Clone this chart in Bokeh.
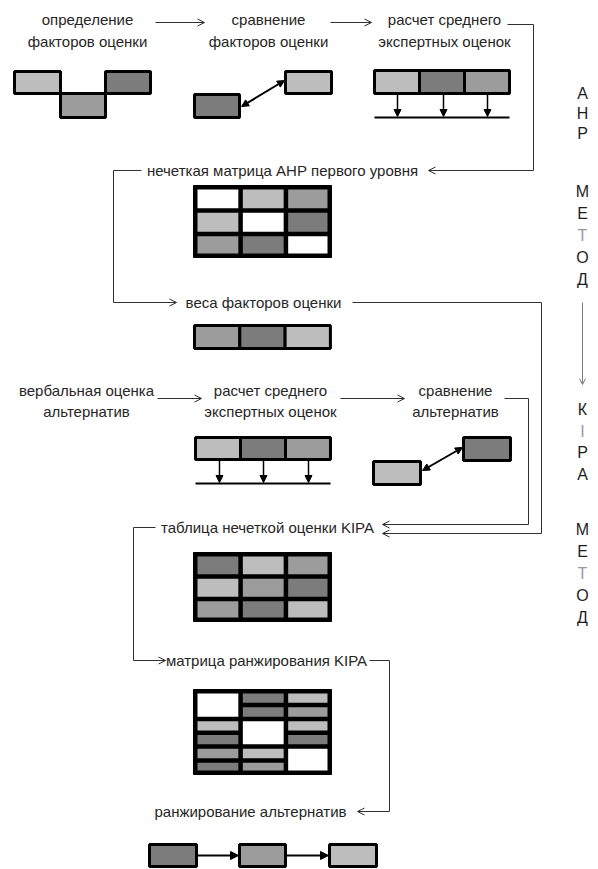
from bokeh.plotting import figure
from bokeh.models import Range1d, Arrow, OpenHead, NormalHead
from bokeh.core.properties import value
from bokeh.embed import file_html
from bokeh.resources import INLINE

# ---------------- data ----------------
SHADE = {"w": "#ffffff", "l": "#bdbdbd", "m": "#9c9c9c", "d": "#7c7c7c"}

top_steps = [["определение", "факторов оценки"],
             ["сравнение", "факторов оценки"],
             ["расчет среднего", "экспертных оценок"]]
alt_steps = [["вербальная оценка", "альтернатив"],
             ["расчет среднего", "экспертных оценок"],
             ["сравнение", "альтернатив"]]
stage_labels = ["нечеткая матрица АНР первого уровня",
                "веса факторов оценки",
                "таблица нечеткой оценки KIPA",
                "матрица ранжирования KIPA",
                "ранжирование альтернатив"]
side_top = ["А", "Н", "Р", "", "М", "Е", "Т", "О", "Д"]
side_bottom = ["К", "І", "Р", "А", "", "М", "Е", "Т", "О", "Д"]

factor_boxes = ["l", "m", "d"]
compare_factors = ["d", "l"]
avg_factors = ["l", "d", "m"]
ahp_matrix = [["w", "l", "m"], ["l", "w", "d"], ["m", "d", "w"]]
weights = ["m", "d", "l"]
avg_alts = ["l", "d", "m"]
compare_alts = ["l", "d"]
kipa_table = [["d", "l", "m"], ["l", "m", "d"], ["m", "d", "l"]]
ranking_cols = [[("w", 2), ("l", 1), ("d", 1), ("m", 1), ("d", 1)],
                [("d", 1), ("d", 1), ("w", 2), ("l", 1), ("m", 1)],
                [("l", 1), ("m", 1), ("l", 1), ("d", 1), ("w", 2)]]
final_rank = ["d", "m", "l"]

# ---------------- figure ----------------
W, H = 598, 869
p = figure(width=W, height=H, x_range=Range1d(0, W), y_range=Range1d(H, 0),
           output_backend="svg", toolbar_location=None,
           x_axis_location=None, y_axis_location=None, min_border=0)
p.grid.visible = False
p.outline_line_color = None
p.background_fill_color = "white"

FONT = value("Liberation Sans")
TXT = "#262626"
LN = "#303030"


def label(x, y, s, size="15px", align="center", color=TXT):
    p.text(x=[x], y=[y], text=[s], text_font=FONT, text_font_size=value(size),
           text_align=align, text_baseline="middle", text_color=color)


def box(x0, x1, y0, y1, shade, lw=3):
    p.quad(left=[x0], right=[x1], top=[y0], bottom=[y1], fill_color=SHADE[shade],
           line_color="black", line_width=lw)


def hline(x0, x1, y, lw=1, color=LN):
    p.line([x0, x1], [y, y], line_color=color, line_width=lw)


def poly(xs, ys, lw=1, color=LN):
    p.line(xs, ys, line_color=color, line_width=lw)


def open_arrow(x0, y0, x1, y1, size=7, color=LN):
    p.add_layout(Arrow(end=OpenHead(size=size, line_width=1, line_color=color),
                       x_start=x0, y_start=y0, x_end=x1, y_end=y1,
                       line_color=color, line_width=1))


def solid_arrow(x0, y0, x1, y1, both=False, size=8, lw=2):
    head = lambda: NormalHead(size=size, fill_color="black", line_color="black")
    p.add_layout(Arrow(end=head(), start=head() if both else None,
                       x_start=x0, y_start=y0, x_end=x1, y_end=y1,
                       line_color="black", line_width=lw))


def grid_matrix(x0, x1, y0, y1, cells, g=3):
    nr, nc = len(cells), len(cells[0])
    p.quad(left=[x0 - 1], right=[x1 + 1], top=[y0 - 1], bottom=[y1 + 1],
           fill_color="black", line_color="black")
    cw = (x1 - x0) / nc
    rh = (y1 - y0) / nr
    for r, row in enumerate(cells):
        for c, s in enumerate(row):
            p.quad(left=[x0 + c * cw + g], right=[x0 + (c + 1) * cw - g / 2 if c < nc - 1 else x1 - g],
                   top=[y0 + r * rh + g], bottom=[y0 + (r + 1) * rh - g / 2 if r < nr - 1 else y1 - g],
                   fill_color=SHADE[s], line_color=None)


def col_matrix(x0, x1, y0, y1, cols, g=3):
    p.quad(left=[x0 - 1], right=[x1 + 1], top=[y0 - 1], bottom=[y1 + 1],
           fill_color="black", line_color="black")
    nc = len(cols)
    cw = (x1 - x0) / nc
    units = sum(n for _, n in cols[0])
    rh = (y1 - y0) / units
    for c, col in enumerate(cols):
        u = 0
        for s, n in col:
            p.quad(left=[x0 + c * cw + g], right=[x0 + (c + 1) * cw - (g / 2 if c < nc - 1 else g)],
                   top=[y0 + u * rh + g], bottom=[y0 + (u + n) * rh - (g / 2 if u + n < units else g)],
                   fill_color=SHADE[s], line_color=None)
            u += n


# ---------------- row 1: factor steps ----------------
cx1 = [87, 268, 444]
for cx, (a, b) in zip(cx1, top_steps):
    label(cx, 19, a)
    label(cx, 41, b)
open_arrow(155, 22, 204, 22)
open_arrow(330, 22, 371, 22)

# staircase
box(14, 60, 71, 93, factor_boxes[0])
box(60, 105, 93, 117, factor_boxes[1])
box(105, 150, 71, 93, factor_boxes[2])

# pairwise comparison
box(194, 239, 94, 117, compare_factors[0])
box(285, 331, 71, 93, compare_factors[1])
solid_arrow(241, 106, 284, 80, both=True, size=7)

# averaging
for i, s in enumerate(avg_factors):
    box(374 + i * 45, 374 + (i + 1) * 45, 70, 93, s)
hline(374, 509, 117, lw=2, color="black")
for x in [397, 443, 487]:
    solid_arrow(x, 94, x, 116, size=7, lw=1.5)

# connector to AHP matrix
poly([507, 533, 533], [24, 24, 170])
hline(533, 430, 170)
open_arrow(440, 170, 428, 170)

# ---------------- AHP matrix ----------------
label(282, 170, stage_labels[0])
poly([141, 113, 113, 172], [170, 170, 302, 302])
open_arrow(165, 302, 176, 302)
grid_matrix(194, 330, 186, 256, ahp_matrix)

# ---------------- weights ----------------
label(263, 302, stage_labels[1])
poly([352, 541, 541, 384], [302, 302, 533, 533])
open_arrow(394, 533, 382, 533)
for i, s in enumerate(weights):
    box(194 + i * 45.3, 194 + (i + 1) * 45.3, 325, 348, s)

# ---------------- row 3: alternatives ----------------
cx3 = [86, 270, 455]
for cx, (a, b) in zip(cx3, alt_steps):
    label(cx, 390, a)
    label(cx, 411, b)
open_arrow(157, 398, 201, 398)
open_arrow(340, 398, 404, 398)

for i, s in enumerate(avg_alts):
    box(195 + i * 45, 195 + (i + 1) * 45, 437, 459, s)
hline(195, 330, 483, lw=2, color="black")
for x in [219, 263, 308]:
    solid_arrow(x, 460, x, 482, size=7, lw=1.5)

box(373, 420, 461, 484, compare_alts[0])
box(463, 510, 437, 460, compare_alts[1])
solid_arrow(422, 470, 462, 447, both=True, size=7)

poly([504, 528, 528, 384], [398, 398, 524, 524])
open_arrow(394, 524, 382, 524)

# ---------------- KIPA table ----------------
label(267, 527, stage_labels[2])
poly([155, 133, 133, 162], [527, 527, 660, 660])
open_arrow(155, 660, 165, 660)
grid_matrix(194, 330, 553, 620, kipa_table)

# ---------------- ranking matrix ----------------
label(266, 660, stage_labels[3])
poly([369, 389, 389, 360], [660, 660, 811, 811])
open_arrow(368, 811, 357, 811)
col_matrix(194, 330, 690, 773, ranking_cols)

# ---------------- final ranking ----------------
label(250, 811, stage_labels[4])
bx = [(149, 196), (239, 285), (329, 376)]
for (a, b), s in zip(bx, final_rank):
    box(a, b, 844, 866, s)
solid_arrow(197, 855, 238, 855, size=8, lw=2)
solid_arrow(286, 855, 328, 855, size=8, lw=2)

# ---------------- side captions ----------------
SX = 582
light_letters = ("І", "Т")
ys_top = [93, 113, 133, None, 191, 213, 235, 257, 279]
for y, ch in zip(ys_top, side_top):
    if ch:
        label(SX, y, ch, size="16px", color="#9a9a9a" if ch in light_letters else "#1e1e1e")
open_arrow(SX, 302, SX, 384, size=6, color="#808080")
ys_bot = [409, 431, 452, 474, None, 529, 551, 573, 595, 617]
for y, ch in zip(ys_bot, side_bottom):
    if ch:
        label(SX, y, ch, size="16px", color="#9a9a9a" if ch in light_letters else "#1e1e1e")

open("out.html", "w").write(file_html(p, INLINE))
